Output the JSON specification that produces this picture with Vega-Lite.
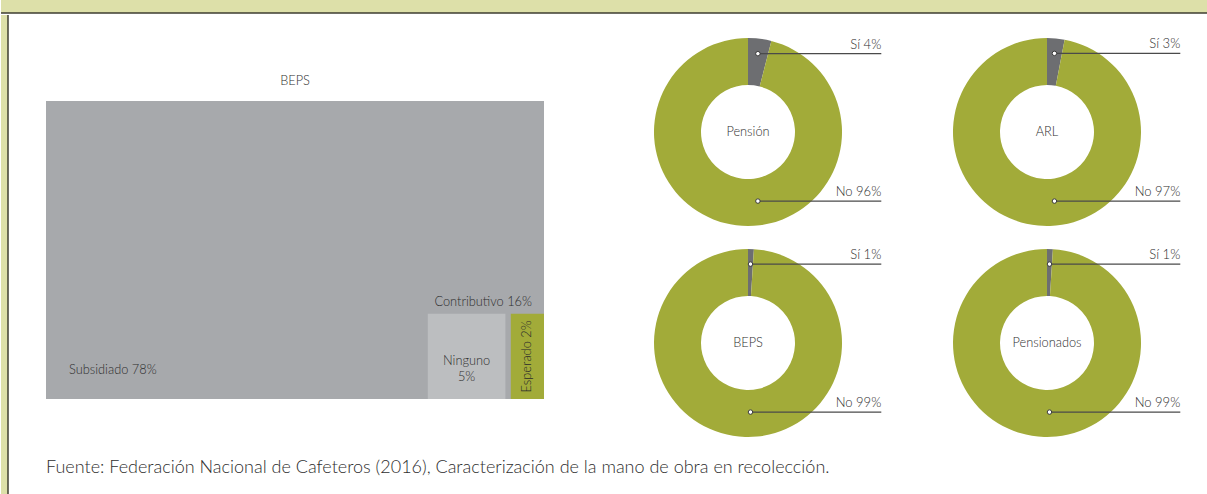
{
  "$schema": "https://vega.github.io/schema/vega-lite/v6.json",
  "background": "white",
  "padding": 0,
  "spacing": 0,
  "config": {
    "view": {"stroke": null},
    "font": "Lato",
    "text": {"font": "Lato", "color": "#474747"},
    "title": {"font": "Lato"}
  },
  "datasets": {
    "marco": [{}],
    "treemap": [
      {"cat": "Subsidiado", "grupo": "Subsidiado", "pct": 78},
      {"cat": "Contributivo", "grupo": "Contributivo", "pct": 16},
      {"cat": "Ninguno", "grupo": "Contributivo", "pct": 5},
      {"cat": "Esperado", "grupo": "Contributivo", "pct": 2}
    ],
    "afiliacion": [
      {"grafico": "Pensión", "cat": "Sí", "pct": 4},
      {"grafico": "Pensión", "cat": "No", "pct": 96},
      {"grafico": "ARL", "cat": "Sí", "pct": 3},
      {"grafico": "ARL", "cat": "No", "pct": 97},
      {"grafico": "BEPS", "cat": "Sí", "pct": 1},
      {"grafico": "BEPS", "cat": "No", "pct": 99},
      {"grafico": "Pensionados", "cat": "Sí", "pct": 1},
      {"grafico": "Pensionados", "cat": "No", "pct": 99}
    ]
  },
  "vconcat": [
    {
      "width": 1207,
      "height": 13,
      "view": {"fill": "#dde0a9", "stroke": null},
      "data": {"name": "marco"},
      "mark": {"type": "rule", "color": "#3d3d30", "strokeWidth": 1.5},
      "encoding": {"y": {"datum": 0, "type": "quantitative", "scale": {"domain": [0, 1]}, "axis": null}}
    },
    {
      "spacing": 37,
      "hconcat": [
        {
          "width": 7,
          "height": 480,
          "view": {"fill": "#dde0a9", "stroke": null},
          "data": {"name": "marco"},
          "mark": {"type": "rule", "color": "#3d3d30", "strokeWidth": 1.5},
          "encoding": {"x": {"datum": 1, "type": "quantitative", "scale": {"domain": [0, 1]}, "axis": null}}
        },
        {
          "spacing": 54.5,
          "title": {
            "text": "Fuente: Federación Nacional de Cafeteros (2016), Caracterización de la mano de obra en recolección.",
            "orient": "bottom",
            "anchor": "start",
            "font": "Lato",
            "fontSize": 18,
            "fontWeight": 300,
            "color": "#2e2e2e",
            "offset": 22
          },
          "hconcat": [
            {
              "width": 498,
              "height": 384,
              "data": {"name": "treemap"},
              "layer": [
                {
                  "transform": [{"filter": "datum.cat === 'Subsidiado'"}],
                  "mark": {"type": "rect", "color": "#a7a9ac"},
                  "encoding": {
                    "y": {"datum": 0, "type": "quantitative", "scale": {"domain": [0, 128.86], "nice": false, "zero": false}, "axis": null},
                    "y2": {"datum": 100}
                  }
                },
                {
                  "transform": [
                    {"filter": "datum.grupo === 'Contributivo' && datum.cat !== 'Contributivo'"},
                    {"stack": "pct", "groupby": ["grupo"], "sort": [{"field": "cat", "order": "ascending"}], "as": ["x0", "x1"]},
                    {"filter": "datum.cat === 'Esperado'"}
                  ],
                  "mark": {"type": "rect", "color": "#a2ab39"},
                  "encoding": {
                    "x": {"field": "x0", "type": "quantitative", "scale": {"domain": [0, 30], "reverse": true, "nice": false, "zero": false}, "axis": null},
                    "x2": {"field": "x1"},
                    "y": {"datum": 0, "type": "quantitative"},
                    "y2": {"datum": 28.6}
                  }
                },
                {
                  "transform": [
                    {"filter": "datum.grupo === 'Contributivo' && datum.cat !== 'Contributivo'"},
                    {"stack": "pct", "groupby": ["grupo"], "sort": [{"field": "cat", "order": "ascending"}], "as": ["x0", "x1"]},
                    {"filter": "datum.cat === 'Ninguno'"}
                  ],
                  "mark": {"type": "rect", "color": "#bcbec0", "xOffset": -5.4},
                  "encoding": {
                    "x": {"field": "x0", "type": "quantitative"},
                    "x2": {"field": "x1"},
                    "y": {"datum": 0, "type": "quantitative"},
                    "y2": {"datum": 28.6}
                  }
                },
                {
                  "transform": [
                    {"filter": "datum.cat === 'Subsidiado'"},
                    {"calculate": "datum.cat + ' ' + datum.pct + '%'", "as": "etiqueta"}
                  ],
                  "mark": {"type": "text", "align": "left", "baseline": "middle", "dx": 23, "dy": -29, "fontSize": 12.8, "fontWeight": 300, "color": "#2e2e2e"},
                  "encoding": {
                    "x": {"datum": 30, "type": "quantitative"},
                    "y": {"datum": 0, "type": "quantitative"},
                    "text": {"field": "etiqueta"}
                  }
                },
                {
                  "transform": [
                    {"filter": "datum.cat === 'Contributivo'"},
                    {"calculate": "datum.cat + ' ' + datum.pct + '%'", "as": "etiqueta"}
                  ],
                  "mark": {"type": "text", "align": "right", "baseline": "middle", "dx": -12, "dy": -12, "fontSize": 12.8, "fontWeight": 300, "color": "#2e2e2e"},
                  "encoding": {
                    "x": {"datum": 0, "type": "quantitative"},
                    "y": {"datum": 28.6, "type": "quantitative"},
                    "text": {"field": "etiqueta"}
                  }
                },
                {
                  "transform": [
                    {"filter": "datum.grupo === 'Contributivo' && datum.cat !== 'Contributivo'"},
                    {"stack": "pct", "groupby": ["grupo"], "sort": [{"field": "cat", "order": "ascending"}], "as": ["x0", "x1"]},
                    {"filter": "datum.cat === 'Ninguno'"},
                    {"calculate": "(datum.x0 + datum.x1) / 2", "as": "xm"},
                    {"calculate": "datum.cat + '\\n' + datum.pct + '%'", "as": "etiqueta"}
                  ],
                  "mark": {"type": "text", "align": "center", "baseline": "middle", "lineBreak": "\n", "lineHeight": 16, "dx": -2.7, "dy": 4.6, "fontSize": 12.8, "fontWeight": 300, "color": "#2e2e2e"},
                  "encoding": {
                    "x": {"field": "xm", "type": "quantitative"},
                    "y": {"datum": 14.3, "type": "quantitative"},
                    "text": {"field": "etiqueta"}
                  }
                },
                {
                  "transform": [
                    {"filter": "datum.grupo === 'Contributivo' && datum.cat !== 'Contributivo'"},
                    {"stack": "pct", "groupby": ["grupo"], "sort": [{"field": "cat", "order": "ascending"}], "as": ["x0", "x1"]},
                    {"filter": "datum.cat === 'Esperado'"},
                    {"calculate": "(datum.x0 + datum.x1) / 2", "as": "xm"},
                    {"calculate": "datum.cat + ' ' + datum.pct + '%'", "as": "etiqueta"}
                  ],
                  "mark": {"type": "text", "align": "center", "baseline": "middle", "angle": 270, "fontSize": 12.8, "fontWeight": 300, "color": "#2a2a2a"},
                  "encoding": {
                    "x": {"field": "xm", "type": "quantitative"},
                    "y": {"datum": 14.3, "type": "quantitative"},
                    "text": {"field": "etiqueta"}
                  }
                },
                {
                  "transform": [{"filter": "datum.cat === 'Subsidiado'"}, {"calculate": "'BEPS'", "as": "titulo"}],
                  "mark": {"type": "text", "align": "center", "baseline": "middle", "dy": -20, "fontSize": 12.8, "fontWeight": 300, "color": "#2e2e2e"},
                  "encoding": {
                    "x": {"datum": 15, "type": "quantitative"},
                    "y": {"datum": 100, "type": "quantitative"},
                    "text": {"field": "titulo"}
                  }
                }
              ]
            },
            {
              "spacing": 0,
              "vconcat": [
                {
                  "spacing": 0,
                  "hconcat": [
                    {
                      "width": 299, "height": 210,
                      "data": {"name": "afiliacion"},
                      "transform": [{"filter": "datum.grafico === 'Pensión'"}],
                      "layer": [
                        {"mark": {"type": "arc", "innerRadius": 47, "outerRadius": 94},
                         "encoding": {
                           "theta": {"field": "pct", "type": "quantitative", "stack": true},
                           "order": {"field": "cat", "sort": "descending"},
                           "color": {"field": "cat", "type": "nominal", "scale": {"domain": ["Sí", "No"], "range": ["#6d6e71", "#a2ab39"]}, "legend": null},
                           "x": {"datum": 0, "type": "quantitative", "scale": {"domain": [-1.5904, 1.5904], "nice": false, "zero": false}, "axis": null},
                           "y": {"datum": 0, "type": "quantitative", "scale": {"domain": [-0.9894, 1.2447], "nice": false, "zero": false}, "axis": null}}},
                        {"transform": [{"filter": "datum.cat === 'Sí'"}],
                         "mark": {"type": "text", "align": "center", "baseline": "middle", "fontSize": 12.8, "fontWeight": 300, "color": "#2e2e2e"},
                         "encoding": {"x": {"datum": 0, "type": "quantitative"}, "y": {"datum": 0, "type": "quantitative"}, "text": {"field": "grafico"}}},
                        {"transform": [
                           {"calculate": "(datum.cat === 'Sí' ? datum.pct : 100 - datum.pct) * PI / 100", "as": "ang"},
                           {"calculate": "0.84 * sin(datum.ang)", "as": "lx"},
                           {"calculate": "datum.cat === 'Sí' ? 0.84 * cos(datum.ang) : -0.735", "as": "ly"},
                           {"calculate": "datum.cat + ' ' + datum.pct + '%'", "as": "etiqueta"}],
                         "layer": [
                           {"mark": {"type": "rule", "color": "#4a4a4a", "strokeWidth": 1.2},
                            "encoding": {"x": {"field": "lx", "type": "quantitative"}, "x2": {"datum": 1.418}, "y": {"field": "ly", "type": "quantitative"}}},
                           {"mark": {"type": "point", "filled": true, "fill": "white", "stroke": "#3a3a3a", "strokeWidth": 1, "size": 20, "opacity": 1},
                            "encoding": {"x": {"field": "lx", "type": "quantitative"}, "y": {"field": "ly", "type": "quantitative"}}},
                           {"mark": {"type": "text", "align": "right", "baseline": "alphabetic", "dy": -5, "fontSize": 13, "fontWeight": 300, "color": "#2e2e2e"},
                            "encoding": {"x": {"datum": 1.418, "type": "quantitative"}, "y": {"field": "ly", "type": "quantitative"}, "text": {"field": "etiqueta"}}}
                         ]}
                      ]
                    },
                    {
                      "width": 299, "height": 210,
                      "data": {"name": "afiliacion"},
                      "transform": [{"filter": "datum.grafico === 'ARL'"}],
                      "layer": [
                        {"mark": {"type": "arc", "innerRadius": 47, "outerRadius": 94},
                         "encoding": {
                           "theta": {"field": "pct", "type": "quantitative", "stack": true},
                           "order": {"field": "cat", "sort": "descending"},
                           "color": {"field": "cat", "type": "nominal", "scale": {"domain": ["Sí", "No"], "range": ["#6d6e71", "#a2ab39"]}, "legend": null},
                           "x": {"datum": 0, "type": "quantitative", "scale": {"domain": [-1.5904, 1.5904], "nice": false, "zero": false}, "axis": null},
                           "y": {"datum": 0, "type": "quantitative", "scale": {"domain": [-0.9894, 1.2447], "nice": false, "zero": false}, "axis": null}}},
                        {"transform": [{"filter": "datum.cat === 'Sí'"}],
                         "mark": {"type": "text", "align": "center", "baseline": "middle", "fontSize": 12.8, "fontWeight": 300, "color": "#2e2e2e"},
                         "encoding": {"x": {"datum": 0, "type": "quantitative"}, "y": {"datum": 0, "type": "quantitative"}, "text": {"field": "grafico"}}},
                        {"transform": [
                           {"calculate": "(datum.cat === 'Sí' ? datum.pct : 100 - datum.pct) * PI / 100", "as": "ang"},
                           {"calculate": "0.84 * sin(datum.ang)", "as": "lx"},
                           {"calculate": "datum.cat === 'Sí' ? 0.84 * cos(datum.ang) : -0.735", "as": "ly"},
                           {"calculate": "datum.cat + ' ' + datum.pct + '%'", "as": "etiqueta"}],
                         "layer": [
                           {"mark": {"type": "rule", "color": "#4a4a4a", "strokeWidth": 1.2},
                            "encoding": {"x": {"field": "lx", "type": "quantitative"}, "x2": {"datum": 1.418}, "y": {"field": "ly", "type": "quantitative"}}},
                           {"mark": {"type": "point", "filled": true, "fill": "white", "stroke": "#3a3a3a", "strokeWidth": 1, "size": 20, "opacity": 1},
                            "encoding": {"x": {"field": "lx", "type": "quantitative"}, "y": {"field": "ly", "type": "quantitative"}}},
                           {"mark": {"type": "text", "align": "right", "baseline": "alphabetic", "dy": -5, "fontSize": 13, "fontWeight": 300, "color": "#2e2e2e"},
                            "encoding": {"x": {"datum": 1.418, "type": "quantitative"}, "y": {"field": "ly", "type": "quantitative"}, "text": {"field": "etiqueta"}}}
                         ]}
                      ]
                    }
                  ]
                },
                {
                  "spacing": 0,
                  "hconcat": [
                    {
                      "width": 299, "height": 210,
                      "data": {"name": "afiliacion"},
                      "transform": [{"filter": "datum.grafico === 'BEPS'"}],
                      "layer": [
                        {"mark": {"type": "arc", "innerRadius": 47, "outerRadius": 94},
                         "encoding": {
                           "theta": {"field": "pct", "type": "quantitative", "stack": true},
                           "order": {"field": "cat", "sort": "descending"},
                           "color": {"field": "cat", "type": "nominal", "scale": {"domain": ["Sí", "No"], "range": ["#6d6e71", "#a2ab39"]}, "legend": null},
                           "x": {"datum": 0, "type": "quantitative", "scale": {"domain": [-1.5904, 1.5904], "nice": false, "zero": false}, "axis": null},
                           "y": {"datum": 0, "type": "quantitative", "scale": {"domain": [-0.9894, 1.2447], "nice": false, "zero": false}, "axis": null}}},
                        {"transform": [{"filter": "datum.cat === 'Sí'"}],
                         "mark": {"type": "text", "align": "center", "baseline": "middle", "fontSize": 12.8, "fontWeight": 300, "color": "#2e2e2e"},
                         "encoding": {"x": {"datum": 0, "type": "quantitative"}, "y": {"datum": 0, "type": "quantitative"}, "text": {"field": "grafico"}}},
                        {"transform": [
                           {"calculate": "(datum.cat === 'Sí' ? datum.pct : 100 - datum.pct) * PI / 100", "as": "ang"},
                           {"calculate": "0.84 * sin(datum.ang)", "as": "lx"},
                           {"calculate": "datum.cat === 'Sí' ? 0.84 * cos(datum.ang) : -0.735", "as": "ly"},
                           {"calculate": "datum.cat + ' ' + datum.pct + '%'", "as": "etiqueta"}],
                         "layer": [
                           {"mark": {"type": "rule", "color": "#4a4a4a", "strokeWidth": 1.2},
                            "encoding": {"x": {"field": "lx", "type": "quantitative"}, "x2": {"datum": 1.418}, "y": {"field": "ly", "type": "quantitative"}}},
                           {"mark": {"type": "point", "filled": true, "fill": "white", "stroke": "#3a3a3a", "strokeWidth": 1, "size": 20, "opacity": 1},
                            "encoding": {"x": {"field": "lx", "type": "quantitative"}, "y": {"field": "ly", "type": "quantitative"}}},
                           {"mark": {"type": "text", "align": "right", "baseline": "alphabetic", "dy": -5, "fontSize": 13, "fontWeight": 300, "color": "#2e2e2e"},
                            "encoding": {"x": {"datum": 1.418, "type": "quantitative"}, "y": {"field": "ly", "type": "quantitative"}, "text": {"field": "etiqueta"}}}
                         ]}
                      ]
                    },
                    {
                      "width": 299, "height": 210,
                      "data": {"name": "afiliacion"},
                      "transform": [{"filter": "datum.grafico === 'Pensionados'"}],
                      "layer": [
                        {"mark": {"type": "arc", "innerRadius": 47, "outerRadius": 94},
                         "encoding": {
                           "theta": {"field": "pct", "type": "quantitative", "stack": true},
                           "order": {"field": "cat", "sort": "descending"},
                           "color": {"field": "cat", "type": "nominal", "scale": {"domain": ["Sí", "No"], "range": ["#6d6e71", "#a2ab39"]}, "legend": null},
                           "x": {"datum": 0, "type": "quantitative", "scale": {"domain": [-1.5904, 1.5904], "nice": false, "zero": false}, "axis": null},
                           "y": {"datum": 0, "type": "quantitative", "scale": {"domain": [-0.9894, 1.2447], "nice": false, "zero": false}, "axis": null}}},
                        {"transform": [{"filter": "datum.cat === 'Sí'"}],
                         "mark": {"type": "text", "align": "center", "baseline": "middle", "fontSize": 12.8, "fontWeight": 300, "color": "#2e2e2e"},
                         "encoding": {"x": {"datum": 0, "type": "quantitative"}, "y": {"datum": 0, "type": "quantitative"}, "text": {"field": "grafico"}}},
                        {"transform": [
                           {"calculate": "(datum.cat === 'Sí' ? datum.pct : 100 - datum.pct) * PI / 100", "as": "ang"},
                           {"calculate": "0.84 * sin(datum.ang)", "as": "lx"},
                           {"calculate": "datum.cat === 'Sí' ? 0.84 * cos(datum.ang) : -0.735", "as": "ly"},
                           {"calculate": "datum.cat + ' ' + datum.pct + '%'", "as": "etiqueta"}],
                         "layer": [
                           {"mark": {"type": "rule", "color": "#4a4a4a", "strokeWidth": 1.2},
                            "encoding": {"x": {"field": "lx", "type": "quantitative"}, "x2": {"datum": 1.418}, "y": {"field": "ly", "type": "quantitative"}}},
                           {"mark": {"type": "point", "filled": true, "fill": "white", "stroke": "#3a3a3a", "strokeWidth": 1, "size": 20, "opacity": 1},
                            "encoding": {"x": {"field": "lx", "type": "quantitative"}, "y": {"field": "ly", "type": "quantitative"}}},
                           {"mark": {"type": "text", "align": "right", "baseline": "alphabetic", "dy": -5, "fontSize": 13, "fontWeight": 300, "color": "#2e2e2e"},
                            "encoding": {"x": {"datum": 1.418, "type": "quantitative"}, "y": {"field": "ly", "type": "quantitative"}, "text": {"field": "etiqueta"}}}
                         ]}
                      ]
                    }
                  ]
                }
              ]
            }
          ]
        }
      ]
    }
  ]
}
